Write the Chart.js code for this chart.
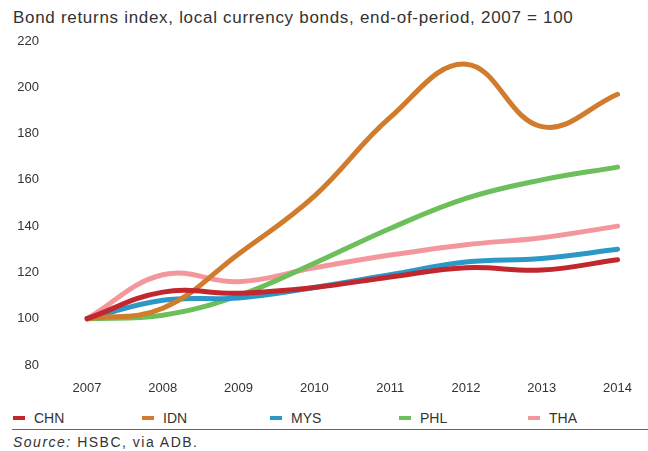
<!DOCTYPE html>
<html>
<head>
<meta charset="utf-8">
<script src="https://cdn.jsdelivr.net/npm/chart.js@4"></script>
<style>
  html, body { margin: 0; padding: 0; background: #fff; }
  body { width: 648px; height: 451px; position: relative; overflow: hidden;
         font-family: "Liberation Sans", Arial, sans-serif; color: #333; }
  #title { position: absolute; left: 13px; top: 8px; font-size: 17px; letter-spacing: 0.7px; white-space: nowrap; line-height: 20px; }
  #chart { position: absolute; left: 0; top: 28px; }
  #legend { position: absolute; left: 13px; top: 408px; height: 20px; }
  .item { position: absolute; top: 0; font-size: 14px; white-space: nowrap; line-height: 20px; }
  .item span { display: inline-block; width: 12px; height: 4px; vertical-align: middle; margin-right: 9px; position: relative; top: -1px; }
  #rule { position: absolute; left: 12px; right: 0; top: 429px; border-top: 1px solid #666; }
  #source { position: absolute; left: 13px; top: 433px; font-size: 14px; letter-spacing: 1.5px; line-height: 18px; white-space: nowrap; }
</style>
</head>
<body>
<div id="title">Bond returns index, local currency bonds, end-of-period, 2007 = 100</div>
<canvas id="chart" width="648" height="380"></canvas>
<div id="legend"></div>
<div id="rule"></div>
<div id="source"><i>Source:</i> HSBC, via ADB.</div>
<script>
const years = ["2007", "2008", "2009", "2010", "2011", "2012", "2013", "2014"];
const chn = [100, 111.5, 111, 113.5, 118, 122, 121, 125.5];
const idn = [100, 104.5, 128, 153, 187, 210, 183, 197];
const mys = [100, 108, 109, 113.5, 119, 124.5, 126, 130];
const phl = [100, 101.5, 110, 124, 139, 152, 160, 165.5];
const tha = [100, 119, 116, 122, 127.5, 132, 135, 140];

const series = [
  { label: "CHN", data: chn, color: "#c1272d" },
  { label: "IDN", data: idn, color: "#d07c2c" },
  { label: "MYS", data: mys, color: "#2b98c6" },
  { label: "PHL", data: phl, color: "#6cbf5a" },
  { label: "THA", data: tha, color: "#f4979d" }
];

const font = { family: "'Liberation Sans', Arial, sans-serif", size: 13 };

new Chart(document.getElementById("chart").getContext("2d"), {
  type: "line",
  data: {
    labels: years,
    datasets: series.map(s => ({
      label: s.label,
      data: s.data,
      borderColor: s.color,
      backgroundColor: s.color,
      borderWidth: 5,
      borderCapStyle: "round",
      pointRadius: 0,
      tension: 0.4,
      fill: false
    }))
  },
  options: {
    responsive: false,
    animation: false,
    layout: { padding: { top: 13, right: 30, left: 0, bottom: 0 } },
    plugins: { legend: { display: false }, tooltip: { enabled: false } },
    scales: {
      x: {
        offset: false,
        grid: { display: false, drawTicks: false },
        border: { display: false },
        ticks: { color: "#333", font: font, padding: 16, maxRotation: 0 },
        afterFit: s => { s.height = 43; }
      },
      y: {
        min: 80,
        max: 220,
        grid: { display: false, drawTicks: false },
        border: { display: false },
        ticks: { stepSize: 20, color: "#333", font: font, padding: 48 },
        // wide label gap on the left, but no extra room above/below the plot
        afterFit: s => { s.width = 87; s.paddingTop = 0; s.paddingBottom = 0; }
      }
    }
  }
});

// legend row under the chart
const legend = document.getElementById("legend");
series.forEach((s, i) => {
  const el = document.createElement("div");
  el.className = "item";
  el.style.left = Math.round(i * 128.7) + "px";
  el.innerHTML = '<span style="background:' + s.color + '"></span>' + s.label;
  legend.appendChild(el);
});
</script>
</body>
</html>
